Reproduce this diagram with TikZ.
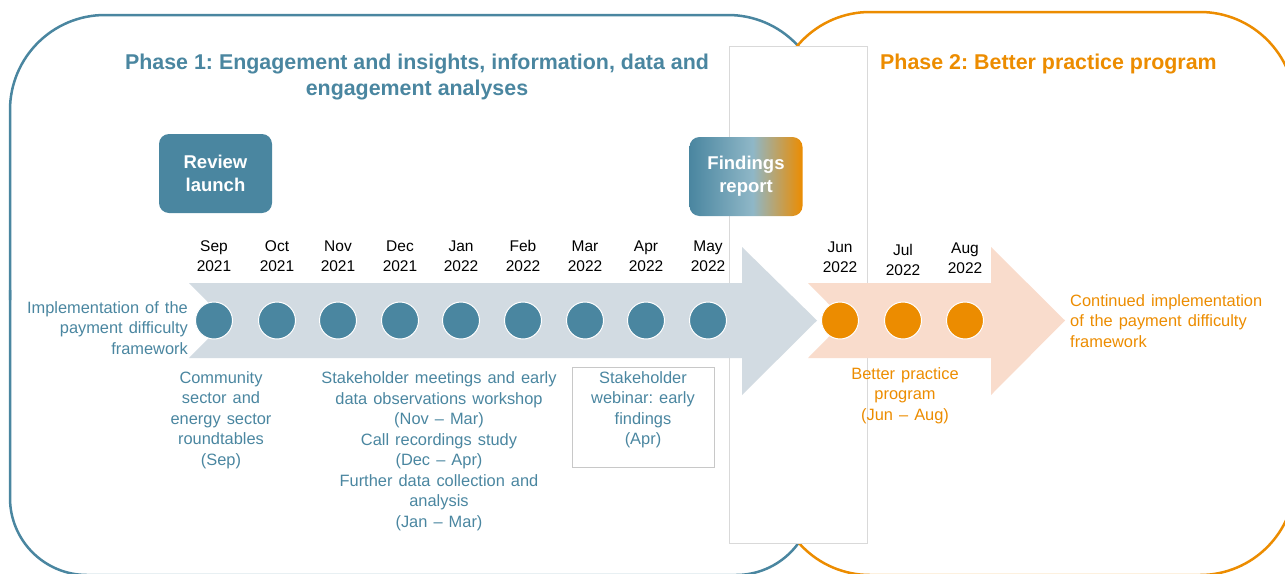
\documentclass[tikz,border=0pt]{standalone}
\usepackage{fontspec}
\setmainfont{Liberation Sans}
\frenchspacing
\definecolor{pblue}{HTML}{4A86A0}
\definecolor{porange}{HTML}{EC8C00}
\definecolor{ablue}{HTML}{D2DBE2}
\definecolor{apeach}{HTML}{F9DCCC}
\definecolor{rgray}{HTML}{D9D9D9}
\definecolor{wgray}{HTML}{C8C8C8}
\definecolor{fbmid}{HTML}{8FB7C7}
\pgfdeclarehorizontalshading{findshade}{100bp}{color(0bp)=(pblue); color(25bp)=(pblue); color(53bp)=(fbmid); color(75bp)=(porange); color(100bp)=(porange)}
\newcommand{\bodyfont}{\fontsize{16.4}{20.5}\selectfont\spaceskip=0.37em plus 0.1em}
\begin{document}
\begin{tikzpicture}[x=1pt,y=-1pt,
  frameB/.style={draw=pblue, line width=2.5pt},
  frameO/.style={draw=porange, line width=2.5pt},
  month/.style={font=\fontsize{15.5}{20}\selectfont, align=center, inner sep=0pt},
  dot/.style={circle, minimum size=37pt, inner sep=0pt, draw=white, line width=1pt},
  bluetext/.style={text=pblue, font=\bodyfont, inner sep=0pt},
  orangetext/.style={text=porange, font=\bodyfont, inner sep=0pt},
  keybox/.style={rounded corners=10pt, minimum width=113pt, minimum height=79pt, inner sep=0pt,
    text=white, font=\bfseries\fontsize{18.5}{23}\selectfont, align=center},
  titlefont/.style={font=\bfseries\fontsize{21.4}{26}\selectfont, inner sep=0pt}
]
\useasboundingbox (0,0) rectangle (1285,573);
\clip (0,0) rectangle (1285,573);

% phase frames
\draw[frameB, rounded corners=95pt] (10,300) -- (10,15) -- (823,15) -- (823,300);
\draw[frameB, rounded corners=77pt] (10,290) -- (10,575) -- (813,575) -- (813,300);
\draw[frameO, rounded corners=95pt] (775,12) -- (1295,12) -- (1295,575) -- (775,575) -- cycle;

% gap rectangle between phases
\node[draw=rgray, fill=white, line width=0.8pt, minimum width=138pt, minimum height=497pt, inner sep=0pt] (gap) at (798,294.5) {};

% timeline arrows
\fill[ablue] (189,283) -- (742,283) -- (742,247) -- (817,320.5) -- (742,395) -- (742,358) -- (189,358) -- (226,320.5) -- cycle;
\fill[apeach] (808,283) -- (991,283) -- (991,247) -- (1065,320.5) -- (991,395) -- (991,358) -- (808,358) -- (845,320.5) -- cycle;

% months and dots, phase 1
\foreach \m/\yr/\x/\n in {Sep/2021/214/1, Oct/2021/277/2, Nov/2021/338/3, Dec/2021/400/4, Jan/2022/461/5, Feb/2022/523/6, Mar/2022/585/7, Apr/2022/646/8, May/2022/708/9}{
  \node[month] (lab\n) at (\x,256) {\m\\\yr};
  \node[dot, fill=pblue] (dot\n) at (\x,320.5) {};
}
% phase 2
\foreach \m/\yr/\x/\yy/\n in {Jun/2022/840/257.5/10, Jul/2022/903/259.5/11, Aug/2022/965/258/12}{
  \node[month] (lab\n) at (\x,\yy) {\m\\\yr};
  \node[dot, fill=porange] (dot\n) at (\x,320.5) {};
}

% titles
\node[titlefont, text=pblue, align=center] (title1) at (417,77) {Phase 1: Engagement and insights, information, data and\\engagement analyses};
\node[titlefont, text=porange, anchor=west] (title2) at (880,64.5) {Phase 2: Better practice program};

% key boxes
\node[keybox, fill=pblue] (review) at (215.5,173.5) {Review\\launch};
\node[keybox, shade, shading=findshade] (findings) at (746,176.5) {Findings\\report};

% side texts
\node[bluetext, align=right, anchor=east] (impl) at (188,328) {Implementation of the\\payment difficulty\\framework};
\node[orangetext, align=left, anchor=west] (cont) at (1070,321) {Continued implementation\\of the payment difficulty\\framework};

% activity texts
\node[bluetext, align=center] (community) at (221,420) {Community\\sector and\\energy sector\\roundtables\\(Sep)};
\node[bluetext, align=center] (meetings) at (439,451) {Stakeholder meetings and early\\data observations workshop\\(Nov -- Mar)\\Call recordings study\\(Dec -- Apr)\\Further data collection and\\analysis\\(Jan -- Mar)};
\node[draw=wgray, line width=0.8pt, minimum width=142pt, minimum height=100pt, inner sep=0pt] (webbox) at (643,417) {};
\node[bluetext, align=center] (webinar) at (643,410) {Stakeholder\\webinar: early\\findings\\(Apr)};
\node[orangetext, align=center] (better) at (905,395.5) {Better practice\\program\\(Jun -- Aug)};
\end{tikzpicture}
\end{document}
